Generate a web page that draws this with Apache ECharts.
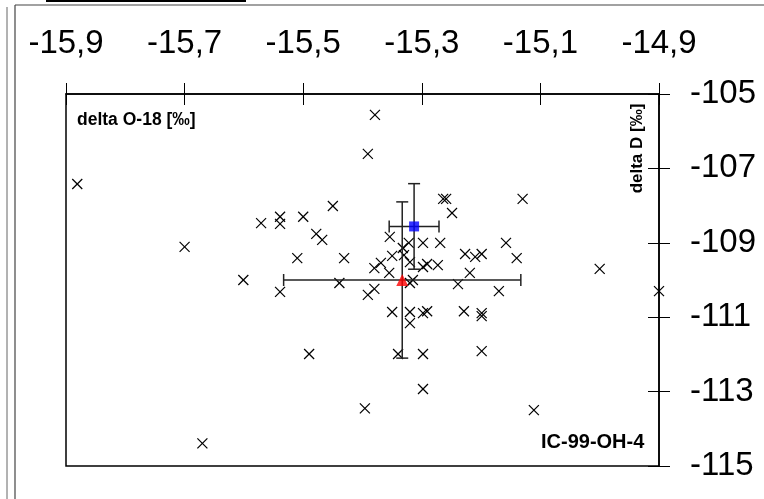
<!DOCTYPE html>
<html>
<head>
<meta charset="utf-8">
<script src="https://cdn.jsdelivr.net/npm/echarts@6/dist/echarts.min.js"></script>
<style>html,body{margin:0;padding:0;background:#fff;}#c{width:764px;height:499px;}</style>
</head>
<body>
<div id="c"></div>
<script>
// delta O-18 values of samples (x markers)
const o18 = [-15.379,-15.391,-15.881,-15.450,-15.264,-15.259,-15.130,-15.249,-15.571,-15.539,-15.539,-15.500,-15.478,-15.468,-15.700,-15.354,-15.298,-15.269,-15.158,-15.322,-15.332,-15.510,-15.431,-15.350,-15.330,-15.227,-15.210,-15.199,-15.140,-15.369,-15.380,-15.320,-15.298,-15.291,-15.273,-15.000,-15.355,-15.219,-15.601,-15.439,-15.320,-15.315,-15.239,-15.170,-15.539,-15.391,-15.380,-14.900,-15.350,-15.320,-15.320,-15.298,-15.291,-15.229,-15.199,-15.199,-15.490,-15.340,-15.298,-15.199,-15.396,-15.298,-15.111,-15.670];
// delta D values of samples
const dD = [-105.56,-106.61,-107.42,-108.01,-107.82,-107.82,-107.82,-108.20,-108.47,-108.30,-108.49,-108.30,-108.76,-108.92,-109.11,-108.84,-109.00,-109.00,-109.00,-109.00,-109.14,-109.41,-109.41,-109.35,-109.33,-109.30,-109.38,-109.30,-109.41,-109.54,-109.68,-109.52,-109.65,-109.57,-109.60,-109.70,-109.81,-109.81,-110.00,-110.08,-110.08,-110.00,-110.11,-110.30,-110.32,-110.40,-110.24,-110.30,-110.86,-110.86,-111.16,-110.89,-110.84,-110.84,-110.89,-110.97,-111.99,-111.99,-111.99,-111.91,-113.45,-112.93,-113.50,-114.39];
// mean points with error (x, y, errX, errY)
const redMean = [-15.333, -110.00, 0.20, 2.10];
const blueMean = [-15.313, -108.56, 0.042, 1.15];
// axis ticks
const xMin = -15.9, xMax = -14.9, xStep = 0.2;
const yMin = -115, yMax = -105, yStep = 2;

const FONT = "'Liberation Sans', Arial, sans-serif";
const chart = echarts.init(document.getElementById('c'), null, {renderer: 'canvas'});

const xFmt = v => v.toFixed(1).replace('.', ',');
const yFmt = v => String(Math.round(v));

function xAxisCfg(inside, showLabel) {
  return {
    type: 'value', position: 'top', min: xMin, max: xMax, interval: xStep,
    axisLine: {show: showLabel, lineStyle: {color: '#000', width: 1.5}},
    axisTick: {show: true, inside: inside, length: 11, lineStyle: {color: '#000', width: 1}},
    axisLabel: {show: showLabel, margin: 34, fontSize: 33, color: '#000', fontFamily: FONT, formatter: xFmt},
    splitLine: {show: false}
  };
}
function yAxisCfg(inside, showLabel) {
  return {
    type: 'value', position: 'right', min: yMin, max: yMax, interval: yStep,
    axisLine: {show: showLabel, lineStyle: {color: '#000', width: 1.5}},
    axisTick: {show: true, inside: inside, length: 11, lineStyle: {color: '#000', width: 1}},
    axisLabel: {show: showLabel, margin: 31, fontSize: 33, color: '#000', fontFamily: FONT, formatter: yFmt, align: 'left'},
    splitLine: {show: false}
  };
}

const crossData = o18.map((v, i) => [v, dD[i]]);

function renderCross(params, api) {
  const p = api.coord([api.value(0), api.value(1)]);
  const s = 5;
  const st = {stroke: '#000', lineWidth: 1.2};
  return {type: 'group', children: [
    {type: 'line', shape: {x1: p[0]-s, y1: p[1]-s, x2: p[0]+s, y2: p[1]+s}, style: st},
    {type: 'line', shape: {x1: p[0]-s, y1: p[1]+s, x2: p[0]+s, y2: p[1]-s}, style: st}
  ]};
}
function renderErr(params, api) {
  const x = api.value(0), y = api.value(1), ex = api.value(2), ey = api.value(3);
  const l = api.coord([x - ex, y]), r = api.coord([x + ex, y]);
  const t = api.coord([x, y + ey]), b = api.coord([x, y - ey]);
  const c = 6;
  const st = {stroke: '#222', lineWidth: 1.5};
  return {type: 'group', children: [
    {type: 'line', shape: {x1: l[0], y1: l[1], x2: r[0], y2: r[1]}, style: st},
    {type: 'line', shape: {x1: l[0], y1: l[1]-c, x2: l[0], y2: l[1]+c}, style: st},
    {type: 'line', shape: {x1: r[0], y1: r[1]-c, x2: r[0], y2: r[1]+c}, style: st},
    {type: 'line', shape: {x1: t[0], y1: t[1], x2: b[0], y2: b[1]}, style: st},
    {type: 'line', shape: {x1: t[0]-c, y1: t[1], x2: t[0]+c, y2: t[1]}, style: st},
    {type: 'line', shape: {x1: b[0]-c, y1: b[1], x2: b[0]+c, y2: b[1]}, style: st}
  ]};
}

chart.setOption({
  animation: false,
  backgroundColor: '#fff',
  grid: {left: 66, top: 94, width: 593, height: 372, show: true, borderColor: '#000', borderWidth: 1.5, backgroundColor: 'transparent'},
  xAxis: [xAxisCfg(false, true), xAxisCfg(true, false)],
  yAxis: [yAxisCfg(false, true), yAxisCfg(true, false)],
  graphic: [
    {type: 'line', shape: {x1: 7, y1: 7, x2: 7, y2: 499}, style: {stroke: '#666', lineWidth: 1}},
    {type: 'line', shape: {x1: 15, y1: 5, x2: 15, y2: 499}, style: {stroke: '#444', lineWidth: 1.2}},
    {type: 'line', shape: {x1: 15, y1: 5, x2: 764, y2: 5}, style: {stroke: '#444', lineWidth: 1.2}},
    {type: 'line', shape: {x1: 46, y1: 1, x2: 246, y2: 1}, style: {stroke: '#000', lineWidth: 2}},
    {type: 'text', x: 77, y: 120, style: {text: 'delta O-18 [‰]', fontSize: 17.5, fontWeight: 'bold', fontFamily: FONT, fill: '#000', align: 'left', verticalAlign: 'middle'}},
    {type: 'text', x: 637, y: 148.5, rotation: Math.PI / 2, style: {text: 'delta D [‰]', fontSize: 17, fontWeight: 'bold', fontFamily: FONT, fill: '#000', align: 'center', verticalAlign: 'middle'}},
    {type: 'text', x: 541, y: 442, style: {text: 'IC-99-OH-4', fontSize: 20, fontWeight: 'bold', fontFamily: FONT, fill: '#000', align: 'left', verticalAlign: 'middle'}}
  ],
  series: [
    {type: 'custom', name: 'samples', xAxisIndex: 0, yAxisIndex: 0, data: crossData, renderItem: renderCross, clip: false, encode: {x: 0, y: 1}, z: 2},
    {type: 'custom', name: 'err', xAxisIndex: 0, yAxisIndex: 0, data: [redMean, blueMean], renderItem: renderErr, clip: false, encode: {x: 0, y: 1}, z: 3},
    {type: 'scatter', name: 'red', xAxisIndex: 0, yAxisIndex: 0, data: [[redMean[0], redMean[1]]], symbol: 'triangle', symbolSize: 12, itemStyle: {color: '#ff0000'}, z: 4},
    {type: 'scatter', name: 'blue', xAxisIndex: 0, yAxisIndex: 0, data: [[blueMean[0], blueMean[1]]], symbol: 'rect', symbolSize: 10, itemStyle: {color: '#0000ff'}, z: 4}
  ]
});
</script>
</body>
</html>
